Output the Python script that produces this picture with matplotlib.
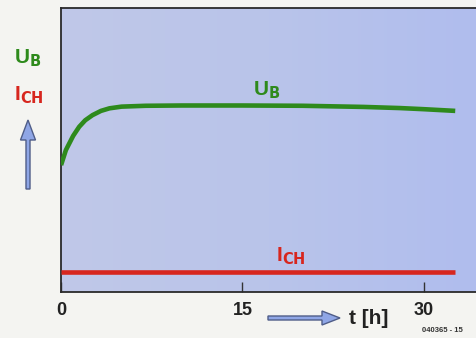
import numpy as np
import matplotlib.pyplot as plt
from matplotlib.colors import LinearSegmentedColormap
from matplotlib.patches import FancyArrow

plt.rcParams['font.family'] = ['Liberation Sans', 'DejaVu Sans']

# curve values (arbitrary y units, 0..100)
t_ub = [0, 0.4, 1, 1.5, 2, 2.6, 3.3, 4, 5, 7, 10, 15, 20, 25, 28, 30, 32.6]
ub = [44.7, 50, 55, 58.2, 60.5, 62.3, 63.8, 64.7, 65.3, 65.6, 65.7, 65.7, 65.6, 65.2, 64.8, 64.4, 63.8]
t_ich = [0, 32.6]
ich = [7.0, 7.0]
xticks = [0, 15, 30]

fig = plt.figure(figsize=(4.77, 3.38), dpi=100)
fig.patch.set_facecolor('#f4f4f1')
ax = fig.add_axes([0.128, 0.136, 0.872, 0.840])

# background gradient of the plot area
grad = np.linspace(0, 1, 256).reshape(1, -1)
cmap = LinearSegmentedColormap.from_list('bg', ['#c0c8e8', '#b9c4ea', '#b0bdee'])
ax.imshow(grad, extent=[0, 1, 0, 1], transform=ax.transAxes, aspect='auto',
          cmap=cmap, zorder=0)

ax.plot(t_ub, ub, color='#2e8a1c', lw=3.3, solid_capstyle='butt', zorder=3)
ax.plot(t_ich, ich, color='#d7261e', lw=3.3, solid_capstyle='butt', zorder=3)

ax.set_xlim(0, 34.4)
ax.set_ylim(0, 100)
ax.set_xticks(xticks)
ax.set_xticklabels([str(v) for v in xticks], fontsize=13, fontweight='bold', color='#222222')
ax.set_yticks([])
ax.tick_params(axis='x', direction='in', length=7, width=1, color='#333333', pad=7)
for s in ['left', 'bottom', 'top']:
    ax.spines[s].set_color('#2a2a2a')
    ax.spines[s].set_linewidth(1.3)
ax.spines['right'].set_visible(False)

# in-plot labels
ax.text(17.0, 71, r'U$_\mathbf{B}$', color='#2e8a1c', fontsize=15, fontweight='bold',
        ha='center', va='center')
ax.text(19.0, 12.7, r'I$_\mathbf{CH}$', color='#d7261e', fontsize=15, fontweight='bold',
        ha='center', va='center')

# left labels and arrow
fig.text(28 / 477, 1 - 58 / 338, r'U$_\mathbf{B}$', color='#2e8a1c', fontsize=15,
         fontweight='bold', ha='center', va='center')
fig.text(29 / 477, 1 - 95 / 338, r'I$_\mathbf{CH}$', color='#d7261e', fontsize=15,
         fontweight='bold', ha='center', va='center')
fig.patches.append(FancyArrow(
    28 / 477, 1 - 189 / 338, 0, 69 / 338, width=4 / 477, head_width=15 / 477,
    head_length=20 / 338, length_includes_head=True, transform=fig.transFigure,
    facecolor='#8fa6e6', edgecolor='#4f5d88', lw=1))

# time arrow and label
fig.patches.append(FancyArrow(
    268 / 477, 1 - 318 / 338, 72 / 477, 0, width=4 / 338, head_width=14 / 338,
    head_length=18 / 477, length_includes_head=True, transform=fig.transFigure,
    facecolor='#8fa6e6', edgecolor='#4f5d88', lw=1))
fig.text(369 / 477, 1 - 318 / 338, 't [h]', fontsize=15, fontweight='bold',
         color='#222222', ha='center', va='center')
fig.text(442 / 477, 1 - 330 / 338, '040365 - 15', fontsize=5.5, fontweight='bold',
         color='#333333', ha='center', va='center')

fig.savefig('out.png', dpi=100, facecolor=fig.get_facecolor())
